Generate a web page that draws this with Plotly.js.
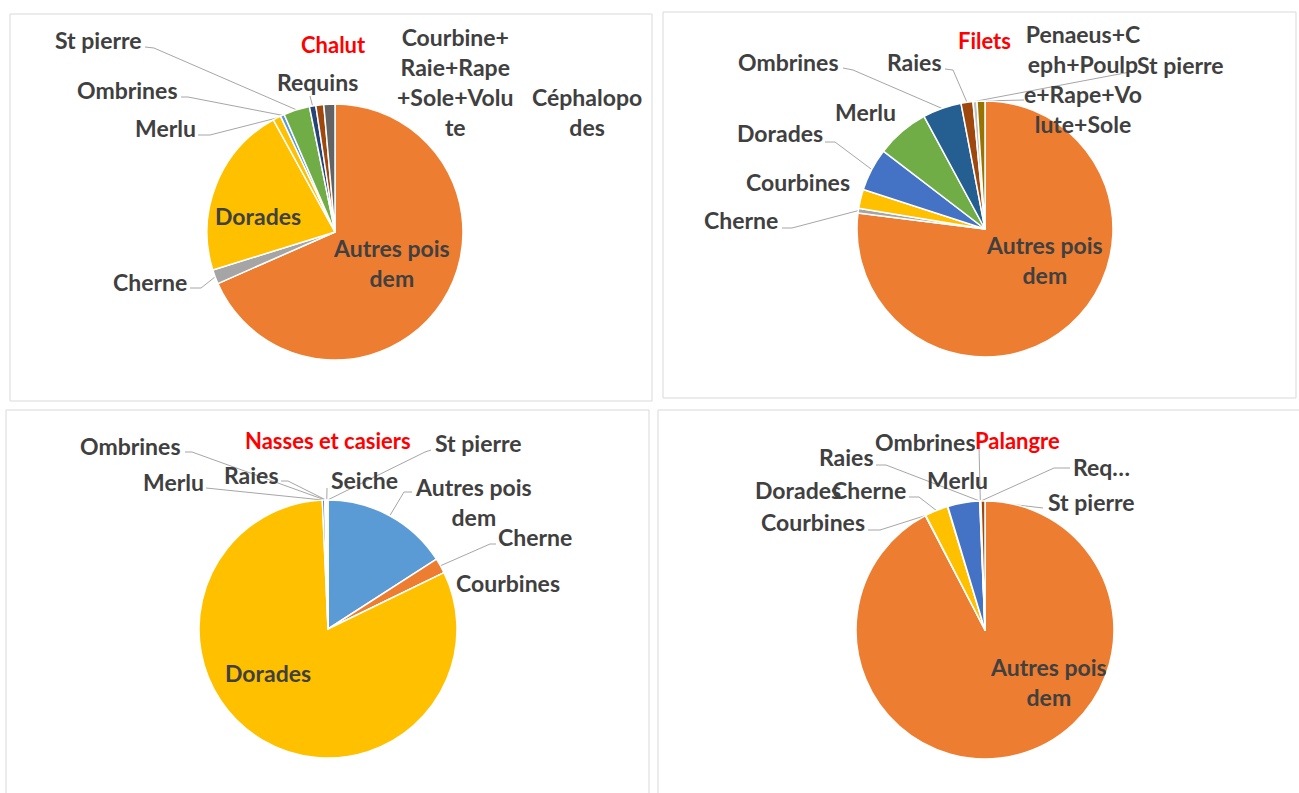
<!DOCTYPE html>
<html>
<head>
<meta charset="utf-8">
<script src="https://cdn.plot.ly/plotly-3.0.1.min.js"></script>
<style>
  html, body { margin: 0; padding: 0; background: #fff; }
  #chart { width: 1299px; height: 793px; }
</style>
</head>
<body>
<div id="chart"></div>
<script>
const chalutLabels = ['Autres pois dem', 'Cherne', 'Dorades', 'Merlu', 'Ombrines', 'St pierre', 'Requins', 'Courbine+Raie+Rape+Sole+Volute', 'Céphalopodes'];
const chalutValues = [68.4, 1.8, 21.8, 1.0, 0.5, 3.3, 0.8, 1.0, 1.4];

const filetsLabels = ['Autres pois dem', 'Cherne', 'Courbines', 'Dorades', 'Merlu', 'Ombrines', 'Raies', 'St pierre', 'Penaeus+Ceph+Poulpe+Rape+Volute+Sole'];
const filetsValues = [77.0, 0.6, 2.4, 5.4, 6.7, 4.9, 1.5, 0.5, 1.0];

const nassesLabels = ['Autres pois dem', 'Cherne', 'Courbines', 'Dorades', 'Merlu', 'Ombrines', 'Raies', 'Seiche', 'St pierre'];
const nassesValues = [15.9, 1.9, 0, 81.5, 0.3, 0.1, 0.1, 0.1, 0.1];

const palangreLabels = ['Autres pois dem', 'Courbines', 'Cherne', 'Dorades', 'Merlu', 'Raies', 'Ombrines', 'Requins', 'St pierre'];
const palangreValues = [92.35, 0.05, 2.9, 0.05, 4.0, 0.05, 0.05, 0.05, 0.5];

// couleurs des parts
const chalutColors = ['#ED7D31', '#A5A5A5', '#FFC000', '#FFC000', '#5B9BD5', '#70AD47', '#264478', '#9E480E', '#636363'];
const filetsColors = ['#ED7D31', '#A5A5A5', '#FFC000', '#4472C4', '#70AD47', '#255E91', '#9E480E', '#BFBFBF', '#997300'];
const nassesColors = ['#5B9BD5', '#ED7D31', '#A5A5A5', '#FFC000', '#4472C4', '#70AD47', '#264478', '#9E480E', '#636363'];
const palangreColors = ['#ED7D31', '#A5A5A5', '#FFC000', '#5B9BD5', '#4472C4', '#264478', '#70AD47', '#636363', '#9E480E'];

// placement des etiquettes (pixels) + depart des traits de rappel
const chalutPlace = [
  {x: 391, y: 263, txt: 'Autres pois<br>dem'},
  {x: 150, y: 282, lead: [[190, 288], [201, 288]]},
  {x: 258, y: 216},
  {x: 165, y: 128, lead: [[198, 135], [210, 135]]},
  {x: 127, y: 90, lead: [[181, 97], [188, 97]]},
  {x: 98, y: 40, lead: [[145, 47], [154, 48]]},
  {x: 317, y: 82, lead: [[310, 96]]},
  {x: 455, y: 82, txt: 'Courbine+<br>Raie+Rape<br>+Sole+Volu<br>te'},
  {x: 587, y: 112, txt: 'Céphalopo<br>des'}
];
const filetsPlace = [
  {x: 1044, y: 260, txt: 'Autres pois<br>dem'},
  {x: 741, y: 220, lead: [[782, 228], [792, 228]]},
  {x: 798, y: 182},
  {x: 780, y: 133, lead: [[825, 142], [835, 142]]},
  {x: 865, y: 112},
  {x: 788, y: 62, lead: [[843, 68], [853, 70]]},
  {x: 914, y: 62, lead: [[945, 69], [953, 70]]},
  {x: 1180, y: 65, lead: [[1130, 72]]},
  {x: 1083, y: 79, txt: 'Penaeus+C<br>eph+Poulp<br>e+Rape+Vo<br>lute+Sole', lead: [[1024, 100]]}
];
const nassesPlace = [
  {x: 473, y: 502, txt: 'Autres pois<br>dem', lead: [[412, 492], [404, 492]]},
  {x: 535, y: 537, lead: [[496, 544], [490, 544]]},
  {x: 508, y: 583},
  {x: 268, y: 673},
  {x: 173, y: 482, lead: [[206, 488]]},
  {x: 130, y: 446, lead: [[185, 452], [192, 452]]},
  {x: 251, y: 475, lead: [[281, 481], [288, 481]]},
  {x: 364, y: 480, lead: [[327, 488]]},
  {x: 478, y: 443, lead: [[431, 450], [425, 452]]}
];
const palangrePlace = [
  {x: 1048, y: 682, txt: 'Autres pois<br>dem'},
  {x: 813, y: 522, lead: [[868, 530], [880, 530]]},
  {x: 869, y: 490, lead: [[909, 497], [919, 497]]},
  {x: 798, y: 490},
  {x: 957, y: 480},
  {x: 846, y: 457, lead: [[876, 465], [886, 465]]},
  {x: 925, y: 442, lead: [[979, 447]]},
  {x: 1101, y: 467, txt: 'Req…', lead: [[1070, 468], [1054, 468]]},
  {x: 1091, y: 502, lead: [[1043, 508]]}
];

const W = 1299, H = 793;

const pies = [
  {title: 'Chalut', labels: chalutLabels, values: chalutValues, colors: chalutColors, place: chalutPlace, cx: 335, cy: 232, r: 128, tx: 333, ty: 44},
  {title: 'Filets', labels: filetsLabels, values: filetsValues, colors: filetsColors, place: filetsPlace, cx: 985, cy: 229, r: 128, tx: 984, ty: 40},
  {title: 'Nasses et casiers', labels: nassesLabels, values: nassesValues, colors: nassesColors, place: nassesPlace, cx: 328, cy: 629, r: 129, tx: 328, ty: 440},
  {title: 'Palangre', labels: palangreLabels, values: palangreValues, colors: palangreColors, place: palangrePlace, cx: 985, cy: 630, r: 129, tx: 1017, ty: 440}
];

const labelFont = {family: 'Lato, "Open Sans", sans-serif', size: 23, color: '#404040', weight: 'bold'};
const titleFont = {family: 'Lato, "Open Sans", sans-serif', size: 22, color: '#FF0000', weight: 'bold'};

const traces = [];
const annotations = [];
const titles = [];

pies.forEach(p => {
  traces.push({
    type: 'pie',
    labels: p.labels,
    values: p.values,
    sort: false,
    direction: 'clockwise',
    rotation: 0,
    marker: {colors: p.colors, line: {color: '#FFFFFF', width: 1.5}},
    textinfo: 'none',
    hoverinfo: 'label+percent',
    showlegend: false,
    domain: {
      x: [(p.cx - p.r) / W, (p.cx + p.r) / W],
      y: [1 - (p.cy + p.r) / H, 1 - (p.cy - p.r) / H]
    }
  });

  const total = p.values.reduce((a, b) => a + b, 0);
  let cum = 0;
  const lx = [], ly = [];
  p.values.forEach((v, i) => {
    const mid = (cum + v / 2) / total * 2 * Math.PI;
    cum += v;
    const pl = p.place[i];
    annotations.push({
      xref: 'x', yref: 'y', x: pl.x, y: pl.y,
      text: pl.txt || p.labels[i],
      showarrow: false, font: labelFont,
      xanchor: 'center', yanchor: 'middle', align: 'center'
    });
    if (pl.lead) {
      pl.lead.forEach(pt => { lx.push(pt[0]); ly.push(pt[1]); });
      lx.push(p.cx + p.r * Math.sin(mid));
      ly.push(p.cy - p.r * Math.cos(mid));
      lx.push(null); ly.push(null);
    }
  });
  traces.push({
    type: 'scatter', mode: 'lines', x: lx, y: ly,
    line: {color: '#A6A6A6', width: 1},
    hoverinfo: 'skip', showlegend: false
  });
  titles.push({
    xref: 'x', yref: 'y', x: p.tx, y: p.ty, text: p.title,
    showarrow: false, font: titleFont, xanchor: 'center', yanchor: 'middle'
  });
});

const panels = [[10, 14, 652, 401], [663, 12, 1296, 398], [6, 410, 649, 800], [658, 410, 1305, 800]];
const shapes = panels.map(b => ({
  type: 'rect', xref: 'x', yref: 'y', x0: b[0], y0: b[1], x1: b[2], y1: b[3],
  line: {color: '#D9D9D9', width: 1}, fillcolor: 'rgba(0,0,0,0)', layer: 'below'
}));

Plotly.newPlot('chart', traces, {
  width: W,
  height: H,
  margin: {l: 0, r: 0, t: 0, b: 0},
  paper_bgcolor: '#FFFFFF',
  plot_bgcolor: 'rgba(0,0,0,0)',
  xaxis: {range: [0, W], visible: false, fixedrange: true},
  yaxis: {range: [H, 0], visible: false, fixedrange: true},
  shapes: shapes,
  annotations: annotations.concat(titles),
  showlegend: false
}, {displayModeBar: false, staticPlot: true});
</script>
</body>
</html>
